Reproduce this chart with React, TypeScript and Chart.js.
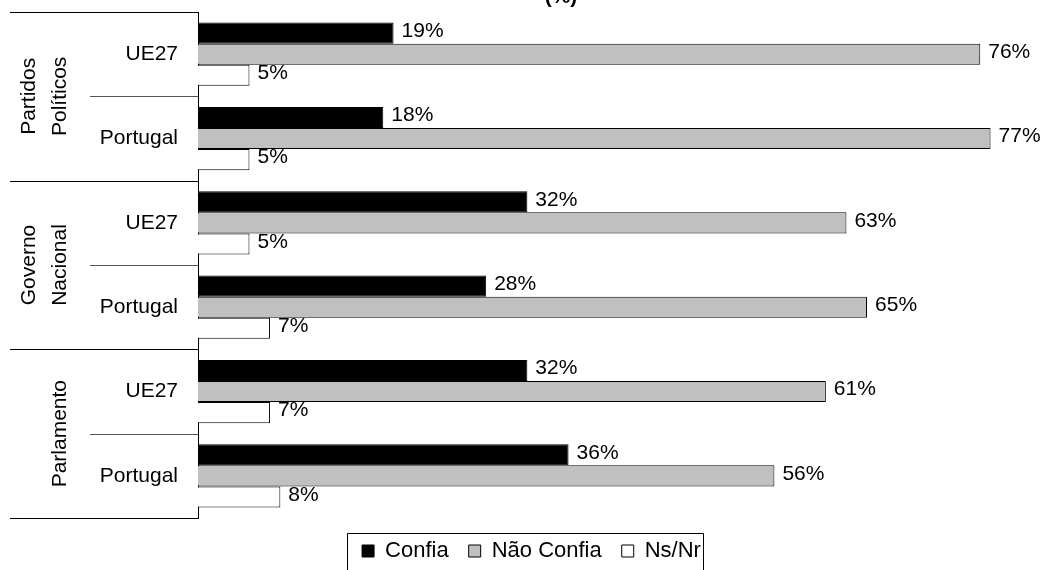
import React, { useEffect, useRef } from "react";
import { Chart, registerables } from "chart.js";

Chart.register(...registerables);

const categories = ["UE27", "Portugal", "UE27", "Portugal", "UE27", "Portugal"];
const groupLabels = [["Partidos", "Políticos"], ["Governo", "Nacional"], ["Parlamento"]];
const seriesNames = ["Confia", "Não Confia", "Ns/Nr"];
const confia = [19, 18, 32, 28, 32, 36];
const naoConfia = [76, 77, 63, 65, 61, 56];
const nsNr = [5, 5, 5, 7, 7, 8];
const titleText = "(%)";

const FONT = "'Liberation Sans', Arial, sans-serif";

const decorPlugin = {
  id: "decor",
  afterDraw(chart: any) {
    const ctx = chart.ctx;
    const y = chart.scales.y;
    const area = chart.chartArea;
    const n = categories.length;
    const step = (area.bottom - area.top) / n;
    ctx.save();
    // separators
    for (let i = 0; i <= n; i++) {
      const py = Math.round(area.top + i * step) + 0.5;
      const isGroup = i % 2 === 0;
      ctx.beginPath();
      ctx.strokeStyle = isGroup ? "#000" : "#555";
      ctx.lineWidth = 1;
      ctx.moveTo(isGroup ? 10 : 90, py);
      ctx.lineTo(area.left, py);
      ctx.stroke();
    }
    // group labels
    ctx.fillStyle = "#000";
    ctx.font = `21px ${FONT}`;
    ctx.textAlign = "center";
    ctx.textBaseline = "middle";
    groupLabels.forEach((lines, g) => {
      const cy = (y.getPixelForValue(g * 2) + y.getPixelForValue(g * 2 + 1)) / 2;
      lines.forEach((line, li) => {
        const cx = 60 - (lines.length - 1 - li) * 31;
        ctx.save();
        ctx.translate(cx, cy);
        ctx.rotate(-Math.PI / 2);
        ctx.fillText(line, 0, 0);
        ctx.restore();
      });
    });
    // title (cut off at top)
    ctx.font = `bold 21px ${FONT}`;
    ctx.textBaseline = "alphabetic";
    ctx.textAlign = "center";
    ctx.fillText(titleText, 561, 3);
    // data labels
    ctx.font = `21px ${FONT}`;
    ctx.textAlign = "left";
    ctx.textBaseline = "middle";
    chart.data.datasets.forEach((ds: any, di: number) => {
      const meta = chart.getDatasetMeta(di);
      meta.data.forEach((bar: any, i: number) => {
        ctx.fillText(`${ds.data[i]}%`, bar.x + 8, bar.y - 2);
      });
    });
    // legend border
    const lg = chart.legend;
    if (lg && lg.legendHitBoxes && lg.legendHitBoxes.length) {
      const hb = lg.legendHitBoxes;
      const left = hb[0].left - 15;
      const last = hb[hb.length - 1];
      const right = last.left + last.width + 2;
      const top = hb[0].top - 7;
      ctx.beginPath();
      ctx.strokeStyle = "#000";
      ctx.lineWidth = 1;
      ctx.rect(Math.round(left) + 0.5, Math.round(top) + 0.5, Math.round(right - left), 80);
      ctx.stroke();
    }
    ctx.restore();
  },
};

export default function App() {
  const ref = useRef<HTMLCanvasElement | null>(null);
  useEffect(() => {
    if (!ref.current) return;
    const chart = new Chart(ref.current, {
      type: "bar",
      data: {
        labels: categories,
        datasets: [
          { label: seriesNames[0], data: confia, backgroundColor: "#000000", borderColor: "#000000", borderWidth: 1 },
          { label: seriesNames[1], data: naoConfia, backgroundColor: "#c0c0c0", borderColor: "#000000", borderWidth: 1 },
          { label: seriesNames[2], data: nsNr, backgroundColor: "#ffffff", borderColor: "#000000", borderWidth: 1 },
        ],
      },
      options: {
        indexAxis: "y",
        responsive: false,
        animation: false,
        layout: { padding: { top: 12, right: 0, bottom: -2, left: 21 } },
        datasets: { bar: { barPercentage: 1, categoryPercentage: 0.75 } },
        scales: {
          x: { display: false, min: 0, max: 82 },
          y: {
            type: "category",
            grid: { display: false, drawTicks: false },
            border: { display: true, color: "#000", width: 1 },
            ticks: { color: "#000", font: { family: FONT, size: 21 }, padding: 20 },
            afterFit: (s: any) => {
              s.width = 177;
              s.paddingTop = 0;
              s.paddingBottom = 0;
            },
          },
        },
        plugins: {
          title: { display: false },
          tooltip: { enabled: false },
          legend: {
            position: "bottom",
            title: { display: true, text: " ", padding: 0, font: { size: 2, lineHeight: 1 } },
            labels: {
              color: "#000",
              font: { family: FONT, size: 22 },
              boxWidth: 12,
              boxHeight: 12,
              padding: 20,
            },
          },
        },
      },
      plugins: [decorPlugin],
    } as any);
    return () => chart.destroy();
  }, []);
  return (
    <div style={{ position: "fixed", left: 0, top: 0, width: 1042, height: 570, background: "#fff" }}>
      <canvas ref={ref} width={1042} height={570} />
    </div>
  );
}
